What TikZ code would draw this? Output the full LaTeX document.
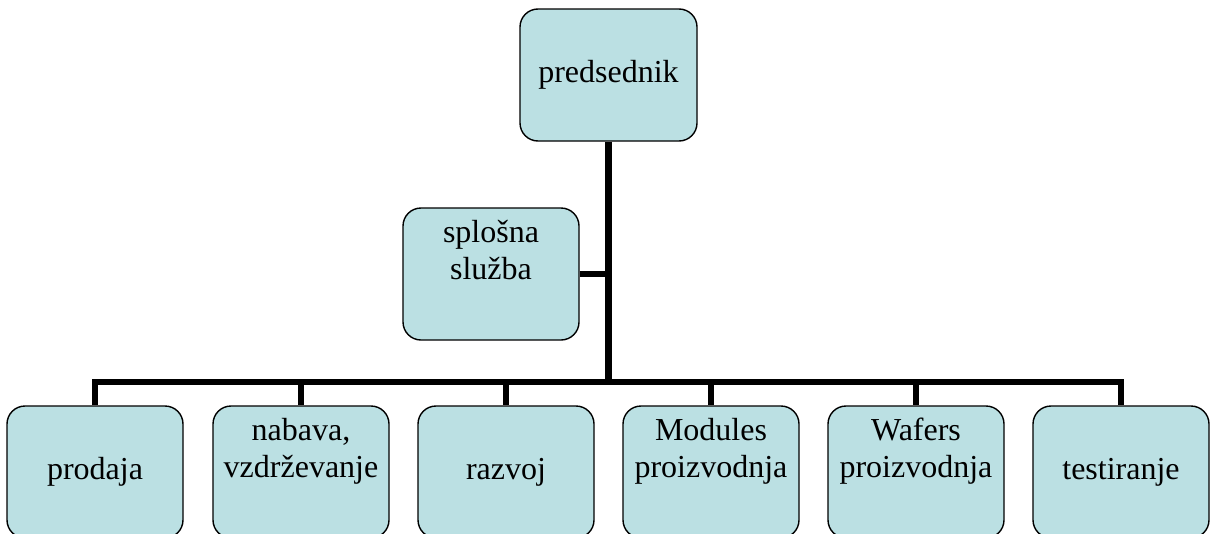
\documentclass[tikz,border=0pt]{standalone}
\usepackage{fontspec}
\setmainfont{Liberation Serif}
\definecolor{boxfill}{RGB}{187,224,227}
\begin{document}
\begin{tikzpicture}[x=1pt,y=-1pt,
  unit/.style={draw=black, line width=1.4pt, fill=boxfill, rounded corners=18pt,
    minimum width=176pt, minimum height=132pt, inner sep=0pt, align=center,
    font=\fontsize{32}{37}\selectfont},
  link/.style={draw=black, line width=6.5pt}]
\useasboundingbox (0,0) rectangle (1210,533);

% head of the organisation
\node[unit, minimum width=177pt] (pres) at (608.5,75) {predsednik};
% staff unit beside the trunk
\node[unit] (staff) at (491,274) {splošna\\služba\\\strut};
% departments
\node[unit] (d1) at (95,472)   {prodaja};
\node[unit] (d2) at (301,472)  {nabava,\\vzdrževanje\\\strut};
\node[unit] (d3) at (506,472)  {razvoj};
\node[unit] (d4) at (711,472)  {Modules\\proizvodnja\\\strut};
\node[unit] (d5) at (916,472)  {Wafers\\proizvodnja\\\strut};
\node[unit] (d6) at (1121,472) {testiranje};

\coordinate (hub) at (608.5,382);

% connectors
\draw[link] (pres.south) -- (hub);
\draw[link] (staff.east) -- (staff.east -| hub);
\draw[link] (d1.north) -- (d1.north |- hub) -- (d6.north |- hub) -- (d6.north);
\foreach \d in {d2,d3,d4,d5}
  \draw[link] (\d.north |- hub) -- (\d.north);
\end{tikzpicture}
\end{document}
